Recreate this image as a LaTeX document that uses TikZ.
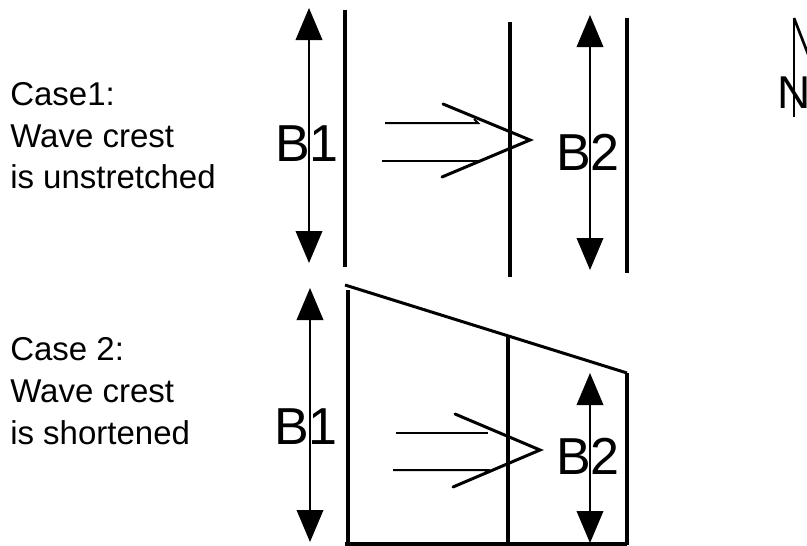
\documentclass[tikz,border=0pt]{standalone}
\usepackage{fontspec}
\setmainfont{Liberation Sans}
\usetikzlibrary{arrows.meta}
\begin{document}
\begin{tikzpicture}[x=0.75pt,y=-0.75pt,
  wall/.style={line width=3pt},
  dimarrow/.style={line width=1.1pt,{Triangle[length=24pt,width=20pt]}-{Triangle[length=24pt,width=20pt]}},
  flow/.style={line width=1.5pt},
  chev/.style={line width=2.25pt,line cap=round},
  casetext/.style={anchor=base west,inner sep=0pt,font=\fontsize{24.75pt}{30pt}\selectfont},
  blabel/.style={inner sep=0pt,font=\fontsize{39pt}{45pt}\selectfont}]
\useasboundingbox (0,0) rectangle (807,546);
\clip (0,0) rectangle (807,546);

% ---------- texts on the left ----------
\node[casetext] (c1a) at (10,105) {Case1:};
\node[casetext] (c1b) at (10,147) {Wave crest};
\node[casetext] (c1c) at (10,188) {is unstretched};
\node[casetext] (c2a) at (10,360) {Case 2:};
\node[casetext] (c2b) at (10,402) {Wave crest};
\node[casetext] (c2c) at (10,444) {is shortened};

% ---------- Case 1 ----------
\coordinate (t1a) at (309,8);   \coordinate (t1b) at (309,263);
\coordinate (t2a) at (590,15);  \coordinate (t2b) at (590,270);
\draw[dimarrow] (t1a) -- (t1b);
\draw[dimarrow] (t2a) -- (t2b);
\node[blabel] (tB1) at (307,144) {B1};
\node[blabel] (tB2) at (588,152) {B2};

\coordinate (tw1a) at (345,10);  \coordinate (tw1b) at (345,267);
\coordinate (tw2a) at (510,22);  \coordinate (tw2b) at (510,277);
\coordinate (tw3a) at (627,18);  \coordinate (tw3b) at (627,273);
\draw[wall] (tw1a) -- (tw1b);
\draw[wall] (tw2a) -- (tw2b);
\draw[wall] (tw3a) -- (tw3b);

\coordinate (th1a) at (385,123); \coordinate (th1b) at (478,123);
\coordinate (th2a) at (382,161); \coordinate (th2b) at (478,161);
\coordinate (tcu) at (443,104); \coordinate (tct) at (530,140); \coordinate (tcl) at (442,177);
\draw[flow] (th1a) -- (th1b) -- (474,119);
\draw[flow] (th2a) -- (th2b);
\draw[chev] (tcu) -- (tct) -- (tcl);

% ---------- Case 2 ----------
\coordinate (b1a) at (310,288); \coordinate (b1b) at (310,542);
\coordinate (b2a) at (590,373); \coordinate (b2b) at (590,543);
\draw[dimarrow] (b1a) -- (b1b);
\draw[dimarrow] (b2a) -- (b2b);
\node[blabel] (bB1) at (306,427) {B1};
\node[blabel] (bB2) at (588,456) {B2};

\coordinate (bl1) at (348,290); \coordinate (bl2) at (348,545);
\coordinate (bs1) at (345,285); \coordinate (bs2) at (627,373);
\coordinate (bm1) at (508,337); \coordinate (bm2) at (508,545);
\coordinate (br2) at (627,545);
\coordinate (bb1) at (345,544); \coordinate (bb2) at (627,544);
\draw[wall] (bl1) -- (bl2);
\draw[line width=2.25pt] (bs1) -- (bs2);
\draw[wall] (bm1) -- (bm2);
\draw[wall] (bs2) -- (br2);
\draw[wall] (bb1) -- (bb2);

\coordinate (bh1a) at (396,433); \coordinate (bh1b) at (488,433);
\coordinate (bh2a) at (393,470); \coordinate (bh2b) at (488,470);
\coordinate (bcu) at (455,414); \coordinate (bct) at (540,450); \coordinate (bcl) at (453,487);
\draw[flow] (bh1a) -- (bh1b);
\draw[flow] (bh2a) -- (bh2b) -- (484,474);
\draw[chev] (bcu) -- (bct) -- (bcl);

% ---------- north arrow (cut at the border) ----------
\coordinate (n1) at (794,18); \coordinate (n2) at (794,117); \coordinate (n3) at (822,90);
\draw[line width=2pt] (n1) -- (n2);
\draw[line width=2pt] (n1) -- (n3);
\node[anchor=base west,inner sep=0pt,font=\fontsize{34.5pt}{40pt}\selectfont] (nN) at (777.5,108) {N};
\end{tikzpicture}
\end{document}
